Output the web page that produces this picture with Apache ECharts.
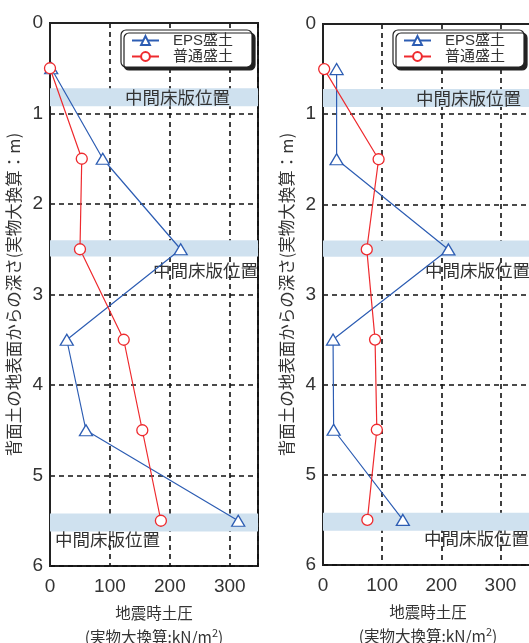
<!DOCTYPE html>
<html>
<head>
<meta charset="utf-8">
<script src="https://cdn.jsdelivr.net/npm/echarts@6/dist/echarts.min.js"></script>
<style>
  html, body { margin: 0; padding: 0; background: #fff; }
  #chart { width: 529px; height: 643px; }
</style>
</head>
<body>
<div id="chart"></div>
<script>
// depth (m) of each measuring point
const depths = [0.5, 1.5, 2.5, 3.5, 4.5, 5.5]
// left panel
const epsLeft = [2, 88, 218, 28, 60, 314]
const normalLeft = [0, 53, 50, 123, 154, 185]
// right panel
const epsRight = [23, 23, 212, 17, 18, 135]
const normalRight = [2, 94, 74, 88, 91, 75]
// 中間床版位置 bands (depth from / to)
const slabBands = [[0.72, 0.92], [2.40, 2.58], [5.42, 5.62]]
const xTicks = [0, 100, 200, 300]

const FONT = '"Liberation Sans", "Noto Sans CJK JP", sans-serif'
const JP = '"Noto Sans CJK JP", sans-serif'
const BLUE = '#2d5db3'
const RED = '#ee2a2e'
const BAND = '#cfe1ef'
const SLAB = '中間床版位置'

const pairs = (xs) => xs.map((v, i) => [v, depths[i]])

// label placement of each band label in each panel
const bandLabels = [
  [
    { position: ['100%', '50%'], align: 'right', verticalAlign: 'middle', offset: [-28, 0] },
    { position: ['100%', '100%'], align: 'right', verticalAlign: 'top', offset: [0, 5] },
    { position: ['0%', '100%'], align: 'left', verticalAlign: 'top', offset: [5, -1] }
  ],
  [
    { position: ['100%', '50%'], align: 'right', verticalAlign: 'middle', offset: [-12, 0] },
    { position: ['100%', '100%'], align: 'right', verticalAlign: 'top', offset: [-3, 5] },
    { position: ['100%', '100%'], align: 'right', verticalAlign: 'top', offset: [-4, -1] }
  ]
]

const makeBands = (panel) => ({
  silent: true,
  itemStyle: { color: BAND },
  data: slabBands.map((b, i) => [
    {
      yAxis: b[0],
      label: Object.assign({
        show: true,
        formatter: SLAB,
        color: '#333',
        fontSize: 17.5,
        fontFamily: JP
      }, bandLabels[panel][i])
    },
    { yAxis: b[1] }
  ])
})

const grids = [
  { left: 50, top: 23, width: 208, height: 543 },
  { left: 323, top: 24, width: 210, height: 541 }
]
const xMax = [347, 355]

const xAxis = grids.map((g, i) => ({
  gridIndex: i,
  type: 'value',
  min: 0,
  max: xMax[i],
  interval: 100,
  axisLine: { show: true, lineStyle: { color: '#222', width: 2 } },
  axisTick: { show: false },
  axisLabel: {
    color: '#333', fontSize: 19, fontFamily: FONT, margin: 11,
    showMaxLabel: false,
    formatter: (v) => xTicks.includes(v) ? String(v) : ''
  },
  splitLine: { show: true, lineStyle: { color: '#111', width: 1.6, type: [5, 4] } },
  name: '地震時土圧\n(実物大換算:kN/m{s|2})',
  nameLocation: 'middle',
  nameGap: 35,
  nameTextStyle: {
    color: '#333', fontSize: 15.5, fontFamily: JP, lineHeight: 24,
    rich: { s: { fontSize: 11, fontFamily: JP, color: '#333', padding: [0, 0, 8, 0] } }
  }
}))

const yAxis = grids.map((g, i) => ({
  gridIndex: i,
  type: 'value',
  inverse: true,
  min: 0,
  max: 6,
  interval: 1,
  axisLine: { show: true, lineStyle: { color: '#222', width: 2 } },
  axisTick: { show: false },
  axisLabel: { color: '#333', fontSize: 19, fontFamily: FONT, margin: 7 },
  splitLine: { show: true, lineStyle: { color: '#111', width: 1.6, type: [5, 4] } },
  name: '背面土の地表面からの深さ(実物大換算：m)',
  nameLocation: 'middle',
  nameGap: 28,
  nameTextStyle: { color: '#333', fontSize: 16.5, fontFamily: JP }
}))

const series = []
const sets = [[epsLeft, normalLeft], [epsRight, normalRight]]
sets.forEach(([eps, normal], i) => {
  series.push({
    name: 'EPS盛土',
    type: 'line',
    xAxisIndex: i,
    yAxisIndex: i,
    data: pairs(eps),
    symbol: 'triangle',
    symbolSize: [13, 11],
    lineStyle: { color: BLUE, width: 1.2 },
    itemStyle: { color: '#fff', borderColor: BLUE, borderWidth: 1.3 },
    markArea: makeBands(i),
    z: 3
  })
  series.push({
    name: '普通盛土',
    type: 'line',
    xAxisIndex: i,
    yAxisIndex: i,
    data: pairs(normal),
    symbol: 'circle',
    symbolSize: 11,
    lineStyle: { color: RED, width: 1.2 },
    itemStyle: { color: '#fff', borderColor: RED, borderWidth: 1.3 },
    z: 4
  })
})

const legendAt = (left) => ({
  orient: 'vertical',
  left: left,
  top: 30,
  data: ['EPS盛土', '普通盛土'],
  itemWidth: 27,
  itemHeight: 11,
  itemGap: 1,
  padding: [3, 19, 3, 10],
  textStyle: { color: '#333', fontSize: 15, fontFamily: FONT, padding: [0, 0, 0, 9] },
  backgroundColor: '#fff',
  borderColor: '#222',
  borderWidth: 1.2,
  borderRadius: 5,
  shadowColor: '#222',
  shadowOffsetX: 3,
  shadowOffsetY: 3,
  shadowBlur: 0,
  selectedMode: false
})

const chart = echarts.init(document.getElementById('chart'))
chart.setOption({
  animation: false,
  backgroundColor: '#fff',
  grid: grids.map(g => Object.assign({
    show: true, borderColor: '#222', borderWidth: 2,
    containLabel: false, outerBoundsMode: 'none'
  }, g)),
  legend: [legendAt(121), legendAt(393)],
  xAxis,
  yAxis,
  series
})
</script>
</body>
</html>
